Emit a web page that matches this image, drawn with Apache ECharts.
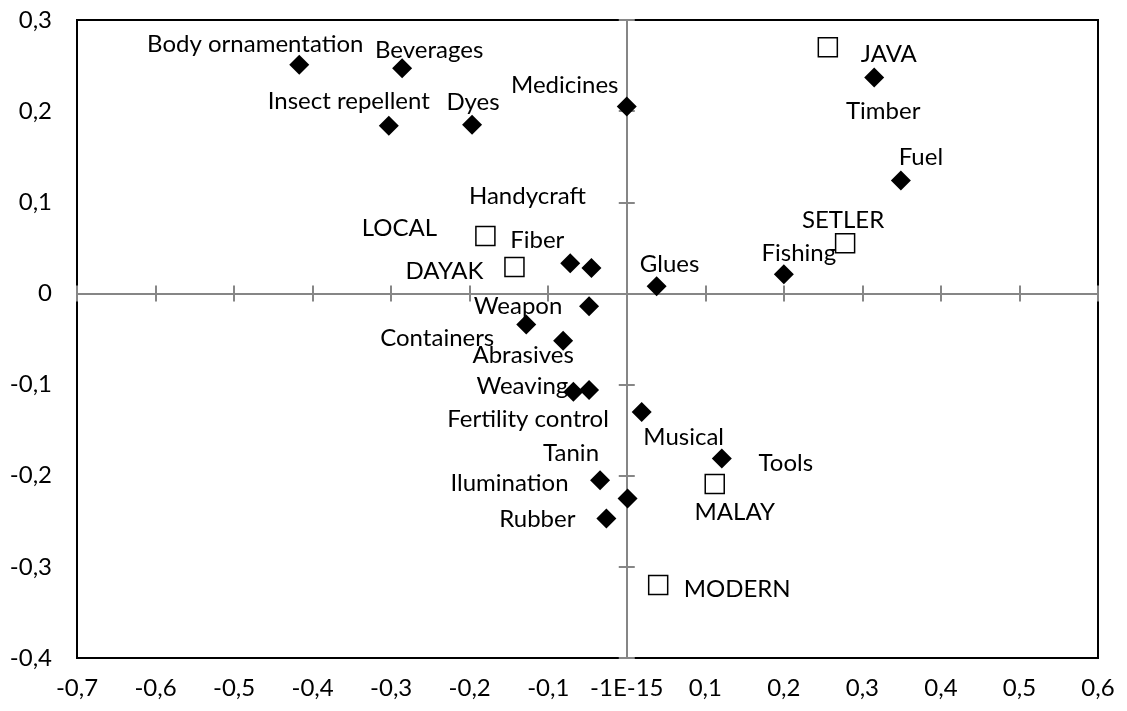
<!DOCTYPE html>
<html><head><meta charset="utf-8">
<script src="https://cdn.jsdelivr.net/npm/echarts@6/dist/echarts.min.js"></script>
<style>html,body{margin:0;padding:0;background:#fff}#c{width:1127px;height:711px}</style>
</head><body><div id="c"></div><script>
// ---- data ----
const usesNames = ['Body ornamentation','Beverages','Insect repellent','Dyes','Medicines','Timber','Fuel','Fishing','Glues','Fiber','Handycraft','Weapon','Containers','Abrasives','Weaving','Fertility control','Musical','Tools','Tanin','Ilumination','Rubber'];
const usesX = [-0.417,-0.286,-0.303,-0.197,0.000,0.315,0.349,0.200,0.038,-0.072,-0.045,-0.048,-0.128,-0.081,-0.068,-0.048,0.019,0.121,-0.034,0.001,-0.026];
const usesY = [0.251,0.247,0.184,0.185,0.205,0.237,0.124,0.021,0.008,0.033,0.028,-0.014,-0.034,-0.052,-0.108,-0.106,-0.130,-0.181,-0.205,-0.225,-0.247];
const groupNames = ['JAVA','LOCAL','DAYAK','SETLER','MALAY','MODERN'];
const groupX = [0.256,-0.180,-0.143,0.278,0.112,0.040];
const groupY = [0.270,0.063,0.029,0.055,-0.209,-0.320];
const xTickLabels = ['-0,7','-0,6','-0,5','-0,4','-0,3','-0,2','-0,1','-1E-15','0,1','0,2','0,3','0,4','0,5','0,6'];
const yTickLabels = ['-0,4','-0,3','-0,2','-0,1','0','0,1','0,2','0,3'];

// ---- label layout (pixel offsets of each label from its marker) ----
const usesLabelOffset = [[-44,-20],[27,-18],[-40,-24],[1,-23],[-62,-21],[9,34],[20,-23],[15,-21],[13,-22],[-33,-23],[-64,-72],[-71,0],[-89,14],[-40,14],[-51,-6],[-61,29],[42,25],[64,5],[-29,-27],[-118,-15],[-69,1]];
const groupLabelOffset = [[61,7],[-86,-8],[-70,4],[-2,-23],[20,28],[79,4]];

const FONT = 'Lato';
const FS = 24;
const XMIN = -0.7, XMAX = 0.6, YMIN = -0.4, YMAX = 0.3, STEP = 0.1;
const GRAY = '#868686';

function lineAxis(min, max, inside, other){
  return {type:'value', min:min, max:max, interval:STEP,
    axisLine:{show:true, onZero:true, onZeroAxisIndex:other, lineStyle:{color:GRAY, width:2}},
    axisTick:{show:true, inside:inside, length:8, lineStyle:{color:GRAY, width:2}},
    axisLabel:{show:false}, splitLine:{show:false}};
}

const chart = echarts.init(document.getElementById('c'), null, {renderer:'canvas'});
chart.setOption({
  animation:false,
  backgroundColor:'#fff',
  grid:{left:77, top:20, width:1021, height:638, show:true, borderColor:'#000', borderWidth:2, backgroundColor:'transparent'},
  xAxis:[
    {type:'value', min:XMIN, max:XMAX, interval:STEP, position:'bottom',
     axisLine:{show:false, onZero:false}, axisTick:{show:false}, splitLine:{show:false},
     axisLabel:{margin:18, color:'#000', fontFamily:FONT, fontSize:FS,
       formatter:function(v){return xTickLabels[Math.round((v-XMIN)/STEP)];}}},
    lineAxis(XMIN, XMAX, true, 1),
    lineAxis(XMIN, XMAX, false, 1)
  ],
  yAxis:[
    {type:'value', min:YMIN, max:YMAX, interval:STEP, position:'left',
     axisLine:{show:false, onZero:false}, axisTick:{show:false}, splitLine:{show:false},
     axisLabel:{margin:25, color:'#000', fontFamily:FONT, fontSize:FS,
       formatter:function(v){return yTickLabels[Math.round((v-YMIN)/STEP)];}}},
    lineAxis(YMIN, YMAX, true, 1),
    lineAxis(YMIN, YMAX, false, 1)
  ],
  series:[
    {type:'scatter', symbol:'diamond', symbolSize:20, itemStyle:{color:'#000', opacity:1},
     label:{show:true, formatter:'{b}', position:'inside', align:'center', verticalAlign:'middle', color:'#000', fontFamily:FONT, fontSize:FS},
     data:usesNames.map(function(n,i){return {name:n, value:[usesX[i],usesY[i]], label:{offset:usesLabelOffset[i]}};})},
    {type:'scatter', symbol:'rect', symbolSize:19, itemStyle:{color:'#fff', borderColor:'#000', borderWidth:1.5, opacity:1},
     label:{show:true, formatter:'{b}', position:'inside', align:'center', verticalAlign:'middle', color:'#000', fontFamily:FONT, fontSize:FS},
     data:groupNames.map(function(n,i){return {name:n, value:[groupX[i],groupY[i]], label:{offset:groupLabelOffset[i]}};})}
  ]
});
</script></body></html>
